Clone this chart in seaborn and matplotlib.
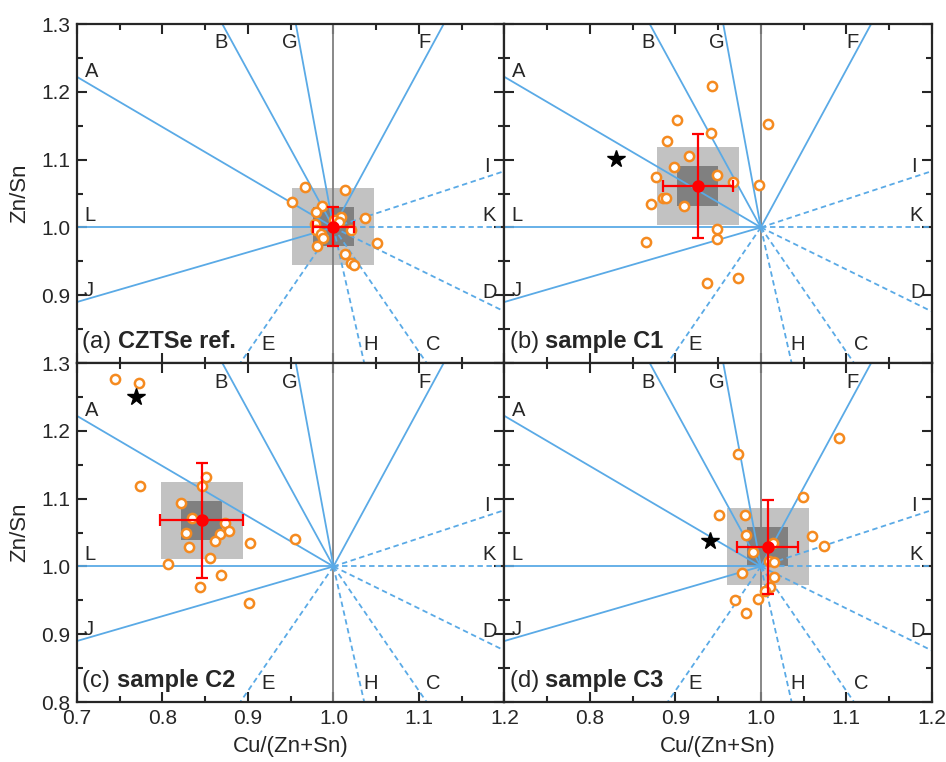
import numpy as np
import pandas as pd
import seaborn as sns
import matplotlib.pyplot as plt
from matplotlib.patches import Rectangle
from matplotlib.ticker import MultipleLocator

sns.set_style('ticks')
plt.rcParams['font.family'] = ['Liberation Sans', 'DejaVu Sans']

# guide lines radiating from stoichiometric point (1, 1): end point on the frame
line_names = ['A', 'B', 'G', 'F', 'I', 'K', 'D', 'C', 'H', 'E', 'J', 'L']
line_end_x = [0.700, 0.870, 0.956, 1.129, 1.200, 1.200, 1.200, 1.109, 1.036, 0.891, 0.700, 0.700]
line_end_y = [1.222, 1.300, 1.300, 1.300, 1.083, 1.000, 0.876, 0.800, 0.800, 0.800, 0.890, 1.000]
line_dashed = [False, False, False, False, True, True, True, True, True, True, False, False]
label_x = [0.717, 0.868, 0.949, 1.107, 1.179, 1.182, 1.183, 1.117, 1.043, 0.923, 0.714, 0.715]
label_y = [1.230, 1.272, 1.272, 1.272, 1.090, 1.017, 0.904, 0.828, 0.828, 0.828, 0.907, 1.017]

panel_tags = ['(a)', '(b)', '(c)', '(d)']
panel_names = ['CZTSe ref.', 'sample C1', 'sample C2', 'sample C3']

# measured points per panel
pts_x = {
    'a': [0.967, 1.013, 0.952, 0.987, 0.980, 1.009, 1.037, 1.001, 1.007, 0.979,
          0.980, 1.020, 0.985, 0.988, 1.051, 0.981, 1.013, 1.020, 1.024],
    'b': [0.943, 0.902, 1.008, 0.942, 0.890, 0.916, 0.898, 0.877, 0.949, 0.967,
          0.998, 0.886, 0.889, 0.872, 0.910, 0.949, 0.949, 0.866, 0.937, 0.973],
    'c': [0.745, 0.773, 0.774, 0.851, 0.846, 0.822, 0.834, 0.873, 0.828, 0.867,
          0.878, 0.861, 0.831, 0.902, 0.955, 0.806, 0.856, 0.868, 0.844, 0.901],
    'd': [1.091, 0.973, 1.049, 0.951, 0.981, 0.983, 1.060, 1.074, 1.014, 0.991,
          1.009, 1.015, 0.978, 1.015, 1.011, 1.005, 0.997, 0.970, 0.983],
}
pts_y = {
    'a': [1.059, 1.055, 1.038, 1.031, 1.022, 1.016, 1.014, 1.011, 1.008, 1.005,
          0.996, 0.996, 0.990, 0.985, 0.977, 0.972, 0.961, 0.948, 0.945],
    'b': [1.208, 1.159, 1.152, 1.139, 1.127, 1.106, 1.089, 1.075, 1.077, 1.067,
          1.063, 1.043, 1.043, 1.035, 1.032, 0.998, 0.983, 0.978, 0.918, 0.925],
    'c': [1.277, 1.271, 1.118, 1.132, 1.119, 1.093, 1.072, 1.064, 1.049, 1.048,
          1.052, 1.038, 1.029, 1.034, 1.041, 1.003, 1.012, 0.988, 0.970, 0.946],
    'd': [1.190, 1.166, 1.103, 1.076, 1.076, 1.046, 1.045, 1.030, 1.035, 1.022,
          1.008, 1.007, 0.990, 0.984, 0.970, 0.964, 0.952, 0.950, 0.932],
}

# mean and spread per panel
mean_x = [1.000, 0.926, 0.846, 1.008]
mean_y = [1.001, 1.061, 1.068, 1.029]
err_x = [0.024, 0.041, 0.0485, 0.036]
err_y = [0.029, 0.077, 0.085, 0.069]
box_inner = (0.024, 0.029)
box_outer = (0.048, 0.057)

# reference star (none for panel a)
star_x = [None, 0.830, 0.769, 0.941]
star_y = [None, 1.101, 1.250, 1.038]

blue = '#5aaae6'
orange = '#f58a1f'

fig = plt.figure(figsize=(9.46, 7.62), dpi=100)
gs = fig.add_gridspec(2, 2, left=0.0814, right=0.985, top=0.9685, bottom=0.0787,
                      hspace=0, wspace=0)
axes = [fig.add_subplot(gs[i, j]) for i in range(2) for j in range(2)]

for k, (ax, key) in enumerate(zip(axes, ['a', 'b', 'c', 'd'])):
    # gray boxes
    ax.add_patch(Rectangle((mean_x[k] - box_outer[0], mean_y[k] - box_outer[1]),
                           2 * box_outer[0], 2 * box_outer[1], color='#c2c2c2', lw=0, zorder=1))
    ax.add_patch(Rectangle((mean_x[k] - box_inner[0], mean_y[k] - box_inner[1]),
                           2 * box_inner[0], 2 * box_inner[1], color='#808080', lw=0, zorder=1.1))
    ax.axvline(1.0, color='#7f7f7f', lw=1.3, zorder=2)

    for name, ex, ey, dashed in zip(line_names, line_end_x, line_end_y, line_dashed):
        ax.plot([1.0, ex], [1.0, ey], color=blue, lw=1.3, zorder=2,
                ls=(0, (3, 2)) if dashed else '-')
    for name, lx, ly in zip(line_names, label_x, label_y):
        ax.text(lx, ly, name, fontsize=14.5, ha='center', va='center', zorder=5)

    df = pd.DataFrame({'x': pts_x[key], 'y': pts_y[key]})
    sns.scatterplot(data=df, x='x', y='y', ax=ax, marker='o', s=44,
                    facecolor='white', edgecolor=orange, linewidth=1.8, zorder=4)

    if star_x[k] is not None:
        ax.plot(star_x[k], star_y[k], marker='*', color='black', ms=13, zorder=4)

    ax.errorbar(mean_x[k], mean_y[k], xerr=err_x[k], yerr=err_y[k], fmt='o',
                color='red', ms=8, elinewidth=1.6, capsize=4, capthick=1.6, zorder=6)

    t = ax.text(0.012, 0.045, panel_tags[k] + ' ', transform=ax.transAxes, fontsize=17,
                ha='left', va='baseline', zorder=5)
    ax.annotate(panel_names[k], xy=(1, 0), xycoords=t, fontsize=17, fontweight='bold',
                ha='left', va='bottom', zorder=5)

    ax.set_xlim(0.7, 1.2)
    ax.set_ylim(0.8, 1.3)
    ax.xaxis.set_major_locator(MultipleLocator(0.1))
    ax.xaxis.set_minor_locator(MultipleLocator(0.05))
    ax.yaxis.set_major_locator(MultipleLocator(0.1))
    ax.yaxis.set_minor_locator(MultipleLocator(0.05))
    ax.tick_params(which='both', direction='in', top=True, right=True, width=1.5,
                   labelsize=15, pad=5)
    ax.tick_params(which='major', length=7)
    ax.tick_params(which='minor', length=4)
    for sp in ax.spines.values():
        sp.set_linewidth(1.6)
    ax.set_xlabel('')
    ax.set_ylabel('')

    row, col = divmod(k, 2)
    if row == 0:
        ax.tick_params(labelbottom=False)
    else:
        ax.set_xlabel('Cu/(Zn+Sn)', fontsize=16, labelpad=6)
        ax.set_xticks(np.round(np.arange(0.7, 1.21, 0.1), 2))
        ax.set_xticklabels([f'{v:.1f}' for v in np.arange(0.7, 1.21, 0.1)])
        if col == 1:
            ax.get_xticklabels()[0].set_visible(False)
    if col == 1:
        ax.tick_params(labelleft=False)
    else:
        ax.set_ylabel('Zn/Sn', fontsize=16, labelpad=8)
        ax.set_yticks(np.round(np.arange(0.8, 1.31, 0.1), 2))
        ax.set_yticklabels([f'{v:.1f}' for v in np.arange(0.8, 1.31, 0.1)])
        if row == 0:
            ax.get_yticklabels()[0].set_visible(False)
    ax.set_xlim(0.7, 1.2)
    ax.set_ylim(0.8, 1.3)

fig.savefig('out.png', dpi=100)
